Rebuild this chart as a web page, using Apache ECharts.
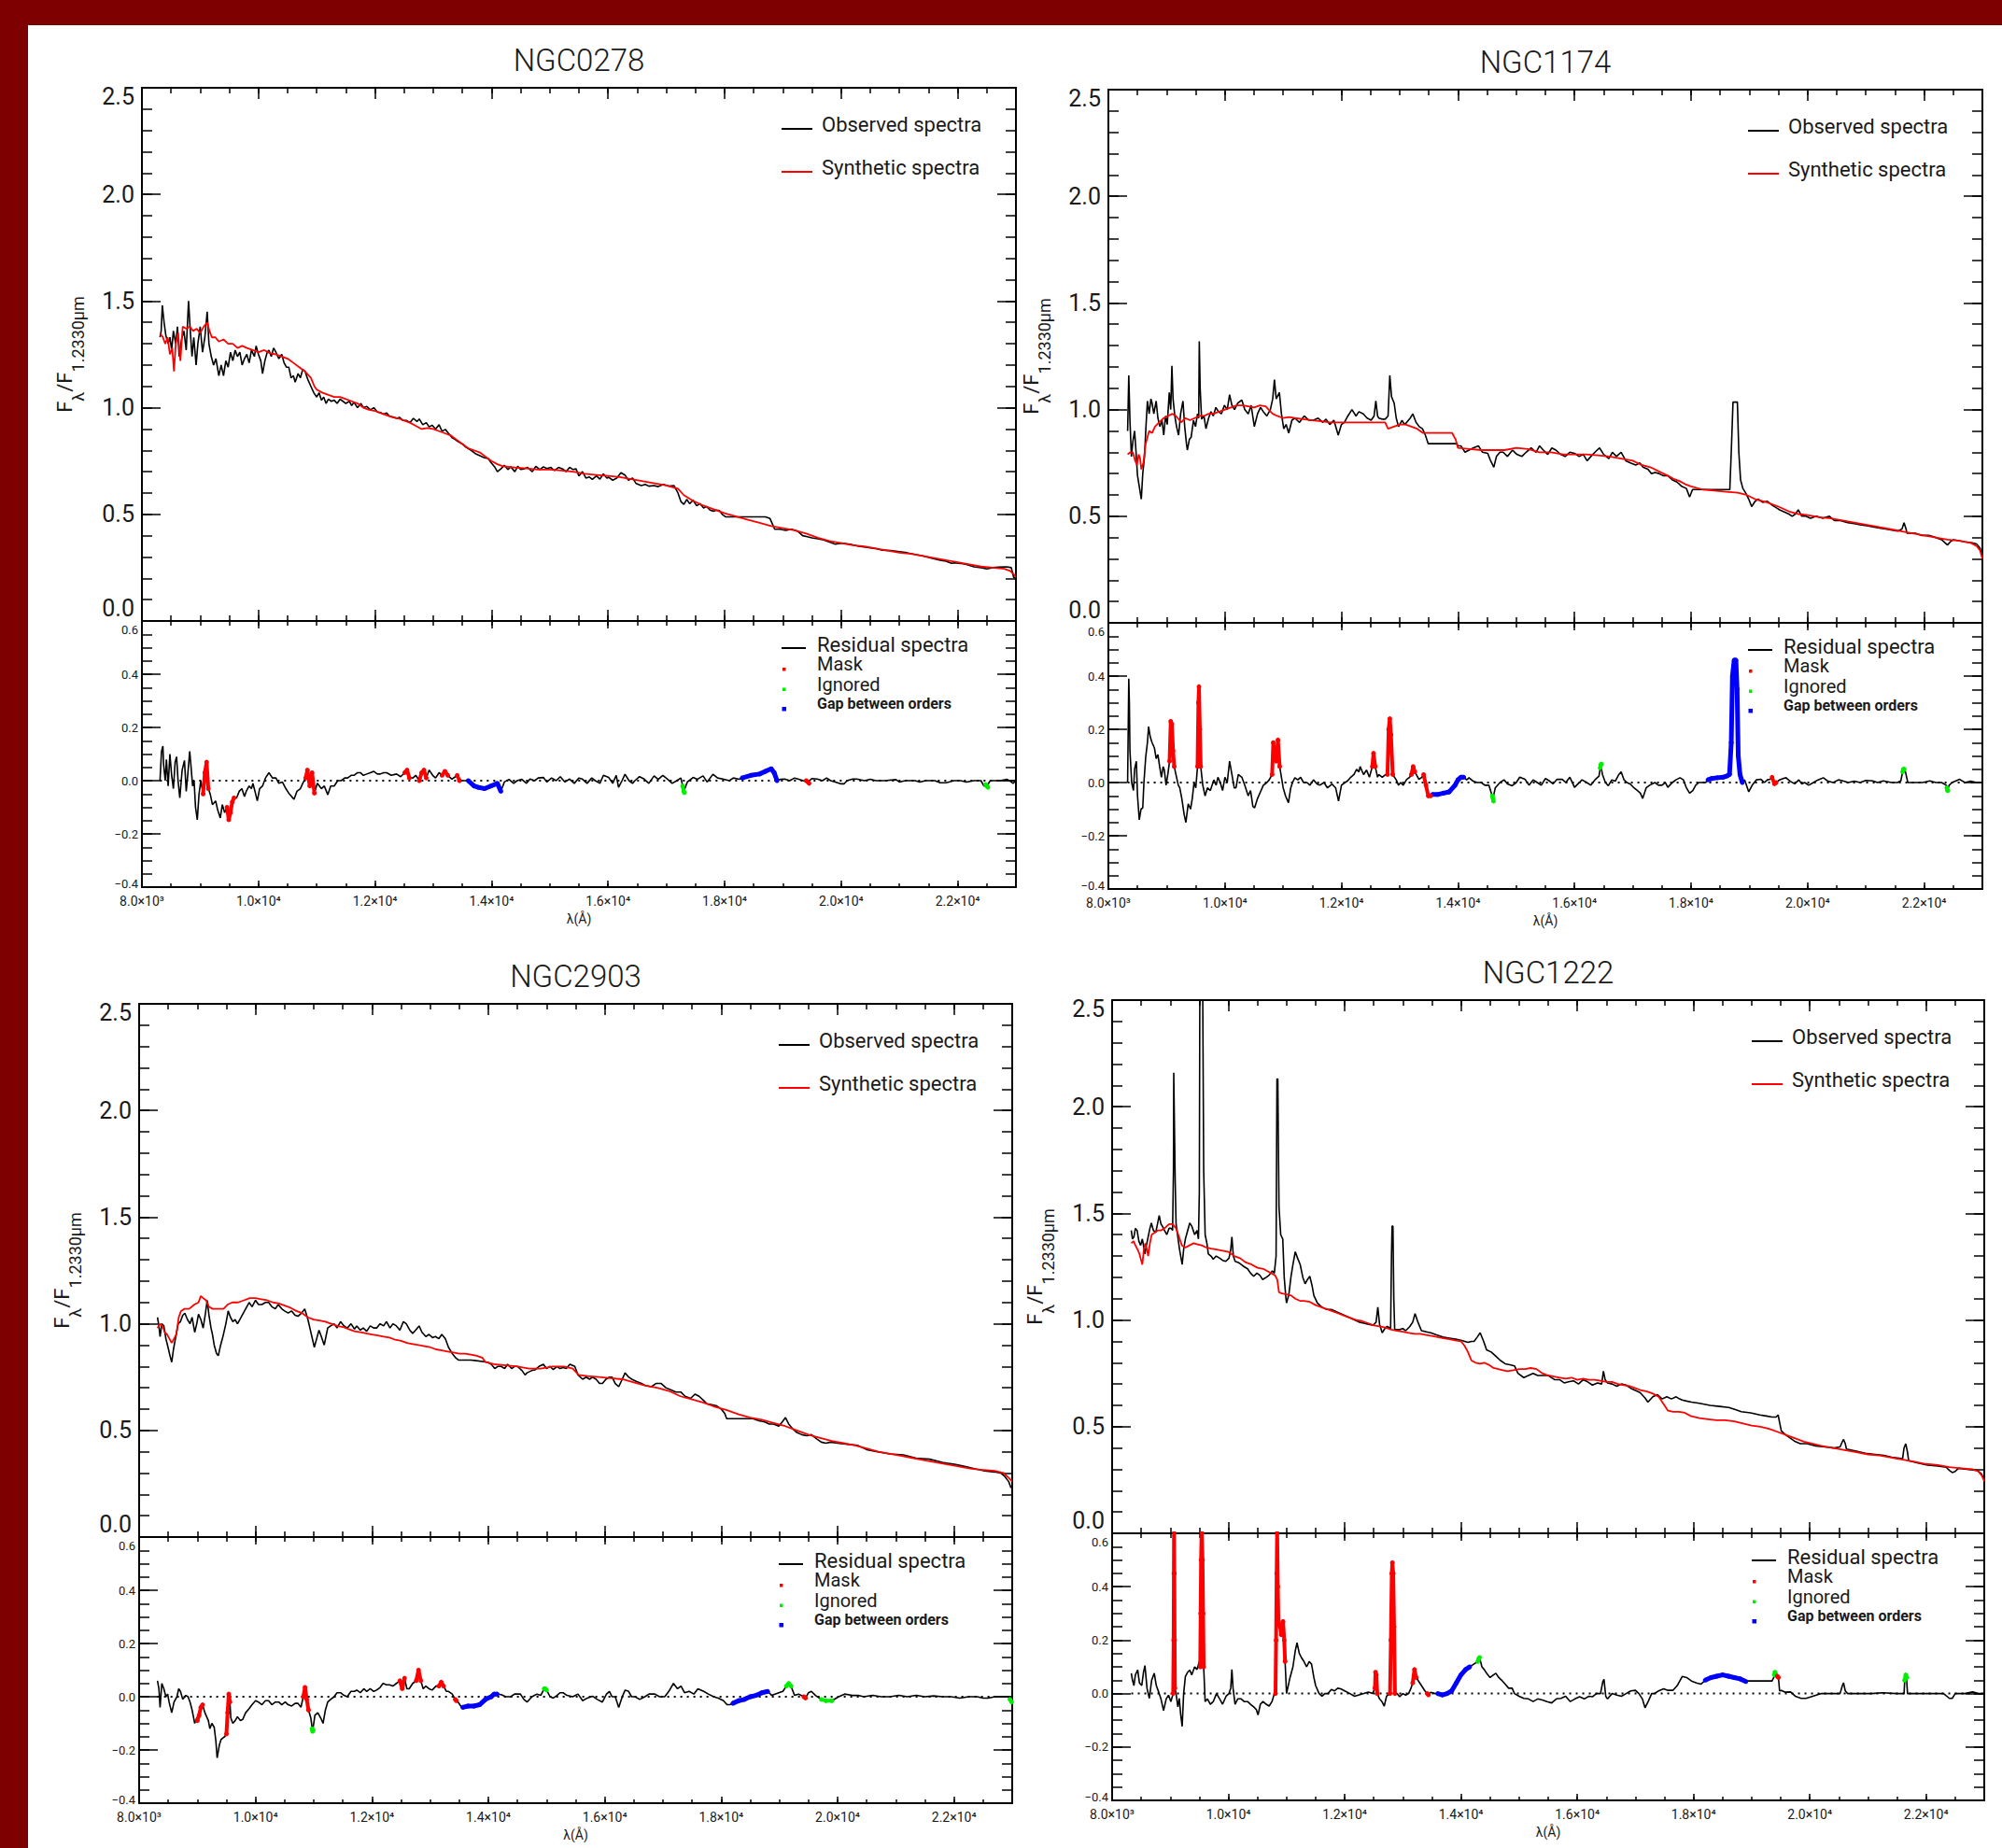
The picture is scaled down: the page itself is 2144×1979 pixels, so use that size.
<!DOCTYPE html>
<html>
<head>
<meta charset="utf-8">
<title>Spectral synthesis fits</title>
<script src="https://cdn.jsdelivr.net/npm/echarts@6/dist/echarts.min.js"></script>
<style>
  html, body { margin: 0; padding: 0; background: #7f0000; }
  #chart { position: absolute; left: 30px; top: 27px; width: 2114px; height: 1952px; background: #fff; }
</style>
</head>
<body>
<div id="chart"></div>
<script>
// wavelength axis ticks (Angstrom)
const xTicks = [8000, 10000, 12000, 14000, 16000, 18000, 20000, 22000]
const xTickLabels = ['8.0×10³', '1.0×10⁴', '1.2×10⁴', '1.4×10⁴', '1.6×10⁴', '1.8×10⁴', '2.0×10⁴', '2.2×10⁴']

// ---------- NGC0278 ----------
const n0278Obs = [[8310,1.33],[8330,1.36],[8350,1.48],[8380,1.40],[8410,1.34],[8450,1.30],[8480,1.33],[8510,1.27],[8540,1.36],[8580,1.30],[8610,1.38],[8640,1.24],[8680,1.32],[8720,1.36],[8760,1.27],[8800,1.50],[8830,1.36],[8860,1.24],[8890,1.33],[8930,1.20],[8960,1.30],[9000,1.38],[9040,1.26],[9080,1.33],[9120,1.45],[9150,1.30],[9190,1.24],[9230,1.20],[9270,1.23],[9320,1.15],[9360,1.20],[9400,1.15],[9440,1.22],[9480,1.19],[9520,1.26],[9560,1.22],[9600,1.27],[9640,1.24],[9680,1.26],[9720,1.20],[9760,1.23],[9800,1.25],[9840,1.21],[9880,1.27],[9930,1.24],[9960,1.29],[10000,1.25],[10040,1.22],[10070,1.16],[10110,1.22],[10150,1.26],[10180,1.27],[10220,1.24],[10260,1.28],[10300,1.26],[10350,1.23],[10400,1.25],[10440,1.21],[10480,1.19],[10520,1.19],[10560,1.14],[10600,1.15],[10630,1.12],[10680,1.16],[10720,1.14],[10760,1.18],[10800,1.17],[10850,1.13],[10900,1.10],[10950,1.07],[11000,1.05],[11040,1.07],[11080,1.035],[11120,1.05],[11160,1.02],[11200,1.04],[11250,1.03],[11300,1.035],[11350,1.02],[11400,1.04],[11450,1.03],[11500,1.02],[11560,1.03],[11600,1.01],[11640,1.025],[11700,1.00],[11760,1.02],[11800,1.00],[11860,1.006],[11920,0.99],[11980,1.00],[12040,0.98],[12090,0.977],[12150,0.97],[12200,0.975],[12250,0.96],[12310,0.957],[12370,0.95],[12420,0.955],[12480,0.94],[12540,0.94],[12600,0.93],[12660,0.95],[12720,0.935],[12760,0.947],[12820,0.92],[12880,0.93],[12930,0.91],[12980,0.918],[13040,0.90],[13100,0.92],[13150,0.89],[13210,0.898],[13260,0.88],[13320,0.86],[13380,0.85],[13430,0.84],[13500,0.83],[13560,0.815],[13650,0.80],[13720,0.785],[13800,0.775],[13880,0.765],[13940,0.762],[14000,0.74],[14060,0.72],[14100,0.70],[14160,0.713],[14220,0.73],[14280,0.71],[14330,0.723],[14400,0.70],[14450,0.725],[14500,0.71],[14550,0.713],[14620,0.72],[14700,0.70],[14760,0.725],[14830,0.71],[14890,0.723],[14950,0.715],[15020,0.72],[15080,0.705],[15150,0.72],[15220,0.713],[15280,0.70],[15340,0.72],[15400,0.71],[15450,0.713],[15500,0.68],[15560,0.70],[15620,0.67],[15680,0.675],[15730,0.664],[15800,0.68],[15860,0.665],[15920,0.69],[15980,0.67],[16010,0.674],[16080,0.66],[16150,0.67],[16220,0.695],[16290,0.684],[16350,0.66],[16420,0.67],[16480,0.645],[16520,0.64],[16570,0.635],[16640,0.64],[16700,0.632],[16790,0.635],[16860,0.63],[16950,0.64],[17040,0.633],[17130,0.635],[17200,0.60],[17250,0.56],[17300,0.547],[17350,0.57],[17400,0.55],[17460,0.566],[17520,0.54],[17580,0.55],[17640,0.53],[17690,0.537],[17750,0.52],[17810,0.515],[17860,0.52],[17910,0.518],[17960,0.50],[18020,0.488],[18200,0.488],[18400,0.488],[18600,0.488],[18700,0.488],[18780,0.48],[18860,0.43],[18950,0.43],[19050,0.425],[19150,0.43],[19260,0.42],[19340,0.40],[19420,0.395],[19500,0.39],[19600,0.385],[19700,0.38],[19800,0.37],[19900,0.36],[20000,0.365],[20150,0.36],[20300,0.35],[20450,0.345],[20580,0.34],[20710,0.332],[20850,0.33],[21000,0.325],[21130,0.32],[21270,0.312],[21400,0.305],[21550,0.295],[21700,0.285],[21800,0.28],[21900,0.27],[21940,0.273],[22050,0.27],[22150,0.265],[22280,0.254],[22400,0.25],[22500,0.244],[22600,0.25],[22700,0.253],[22840,0.254],[22920,0.25],[22960,0.205],[23000,0.20]]
const n0278Syn = [[8310,1.35],[8360,1.33],[8400,1.30],[8440,1.33],[8480,1.25],[8520,1.28],[8550,1.17],[8580,1.30],[8620,1.35],[8660,1.22],[8700,1.38],[8760,1.37],[8820,1.38],[8880,1.36],[8940,1.37],[9000,1.35],[9060,1.38],[9120,1.40],[9160,1.36],[9200,1.33],[9260,1.33],[9320,1.31],[9400,1.32],[9480,1.30],[9560,1.30],[9640,1.28],[9720,1.29],[9800,1.28],[9900,1.27],[10000,1.26],[10100,1.27],[10200,1.255],[10300,1.25],[10400,1.24],[10500,1.23],[10600,1.21],[10700,1.19],[10800,1.17],[10900,1.14],[10960,1.10],[11000,1.085],[11100,1.07],[11200,1.06],[11300,1.05],[11400,1.05],[11500,1.04],[11600,1.03],[11700,1.02],[11800,1.00],[11900,0.99],[12000,0.985],[12100,0.975],[12200,0.965],[12300,0.955],[12400,0.95],[12500,0.94],[12600,0.93],[12700,0.915],[12800,0.90],[12900,0.905],[13000,0.90],[13100,0.89],[13200,0.88],[13300,0.87],[13400,0.85],[13500,0.83],[13600,0.81],[13700,0.80],[13800,0.79],[13900,0.77],[14000,0.75],[14100,0.735],[14200,0.725],[14400,0.72],[14600,0.715],[14800,0.71],[15000,0.71],[15200,0.705],[15400,0.70],[15600,0.69],[15800,0.685],[16000,0.68],[16200,0.675],[16400,0.665],[16600,0.655],[16800,0.645],[17000,0.635],[17200,0.62],[17300,0.59],[17450,0.565],[17600,0.545],[17800,0.525],[18000,0.505],[18200,0.49],[18400,0.475],[18600,0.46],[18800,0.445],[19000,0.435],[19200,0.425],[19400,0.41],[19600,0.39],[19800,0.375],[20000,0.365],[20200,0.355],[20400,0.35],[20600,0.34],[20800,0.33],[21000,0.32],[21200,0.315],[21400,0.305],[21600,0.295],[21800,0.285],[22000,0.275],[22200,0.265],[22400,0.255],[22600,0.25],[22800,0.245],[22900,0.235],[22960,0.22],[23000,0.205]]
const n0278Res = [[8310,0.0],[8336,0.11],[8360,0.13],[8370,0.065],[8400,0.0],[8420,0.08],[8450,-0.02],[8480,0.10],[8510,0.02],[8540,-0.03],[8570,0.07],[8595,0.09],[8620,0.0],[8650,-0.065],[8690,0.04],[8730,0.076],[8760,-0.04],[8785,0.018],[8820,0.11],[8840,0.06],[8870,-0.02],[8895,0.0],[8920,-0.10],[8950,-0.147],[8980,-0.05],[9010,0.0],[9050,-0.05],[9080,0.03],[9110,0.07],[9140,-0.03],[9175,-0.053],[9210,-0.09],[9265,-0.076],[9300,-0.11],[9345,-0.14],[9380,-0.09],[9420,-0.12],[9460,-0.10],[9490,-0.147],[9520,-0.12],[9550,-0.08],[9580,-0.065],[9625,-0.065],[9670,-0.04],[9715,-0.03],[9760,-0.06],[9790,-0.04],[9840,-0.02],[9880,-0.03],[9905,-0.01],[9940,-0.04],[9980,-0.076],[10020,-0.03],[10070,-0.02],[10120,0.01],[10180,0.03],[10240,0.01],[10300,0.01],[10350,-0.01],[10410,-0.005],[10470,-0.03],[10520,-0.047],[10570,-0.06],[10610,-0.07],[10660,-0.04],[10720,-0.03],[10760,-0.01],[10810,0.01],[10840,0.04],[10880,-0.02],[10920,0.03],[10960,-0.047],[11010,-0.01],[11080,-0.03],[11130,-0.02],[11190,-0.053],[11240,-0.02],[11300,-0.02],[11360,0.0],[11420,0.0],[11480,0.01],[11530,0.01],[11590,0.02],[11640,0.02],[11700,0.03],[11750,0.03],[11800,0.02],[11860,0.025],[11920,0.03],[11980,0.035],[12040,0.025],[12090,0.025],[12150,0.03],[12200,0.03],[12280,0.02],[12370,0.025],[12440,0.015],[12510,0.03],[12550,0.04],[12590,0.01],[12650,0.01],[12700,0.02],[12760,0.0],[12800,0.03],[12840,0.04],[12880,0.01],[12930,0.04],[12990,0.02],[13040,0.01],[13100,0.03],[13150,0.02],[13200,0.035],[13250,0.02],[13320,0.006],[13380,0.015],[13410,0.02],[13450,0.0],[13540,0.0],[13600,0.0],[13700,-0.02],[13770,-0.025],[13880,-0.03],[13990,-0.02],[14100,-0.01],[14160,-0.04],[14220,-0.005],[14300,0.005],[14380,-0.01],[14440,0.0],[14520,0.005],[14600,-0.01],[14660,0.006],[14740,0.0],[14800,0.01],[14890,0.012],[14950,-0.005],[15030,0.01],[15110,0.0],[15180,0.015],[15260,-0.005],[15340,0.006],[15420,-0.01],[15500,0.01],[15560,0.006],[15640,-0.01],[15720,0.01],[15780,0.0],[15860,-0.01],[15920,0.02],[16010,0.012],[16080,-0.01],[16140,0.02],[16180,-0.025],[16240,0.0],[16290,0.024],[16360,0.0],[16420,-0.01],[16460,0.0],[16540,0.015],[16620,0.006],[16700,-0.01],[16790,0.018],[16860,0.005],[16940,0.02],[17020,0.006],[17100,-0.01],[17180,0.0],[17250,0.01],[17300,-0.04],[17360,-0.005],[17460,0.012],[17530,0.005],[17630,0.018],[17700,-0.005],[17800,0.024],[17880,0.01],[17970,0.006],[18080,0.0],[18150,0.01],[18250,0.005],[18300,0.01],[18450,0.02],[18600,0.025],[18700,0.035],[18800,0.045],[18850,0.03],[18900,0.0],[18960,0.005],[19030,0.006],[19120,0.0],[19200,0.01],[19260,0.006],[19350,0.0],[19430,-0.005],[19500,0.008],[19590,0.006],[19680,0.0],[19750,0.01],[19820,0.0],[19900,-0.005],[20000,-0.012],[20050,-0.012],[20100,0.0],[20200,0.006],[20270,0.006],[20400,0.0],[20500,0.005],[20600,0.0],[20750,0.0],[20940,0.004],[21000,-0.005],[21100,0.0],[21270,0.0],[21350,-0.005],[21450,0.0],[21610,0.0],[21700,-0.008],[21800,-0.008],[21940,0.0],[22050,0.0],[22150,-0.005],[22280,0.0],[22400,0.0],[22450,-0.02],[22500,-0.02],[22560,0.0],[22730,0.0],[22850,0.005],[22920,-0.005],[22950,-0.01],[23000,0.0]]
const n0278Mask = [
  [[9050,-0.05],[9080,0.03],[9110,0.07],[9140,-0.03]],
  [[9460,-0.10],[9490,-0.147],[9520,-0.12],[9550,-0.08],[9580,-0.065]],
  [[10810,0.01],[10840,0.04],[10880,-0.02],[10920,0.03],[10960,-0.047]],
  [[12510,0.03],[12550,0.04],[12590,0.01]],
  [[12760,0.0],[12800,0.03],[12840,0.04],[12880,0.01]],
  [[13150,0.02],[13200,0.035],[13250,0.02]],
  [[13410,0.02],[13450,0.0]],
  [[19400,0.0],[19430,-0.005],[19450,-0.01]]
]
const n0278Ign = [
  [[17280,-0.02],[17300,-0.04],[17310,-0.045]],
  [[22480,-0.015],[22500,-0.02],[22520,-0.025]]
]
const n0278Gap = [
  [[13600,0.0],[13700,-0.02],[13770,-0.025],[13880,-0.03],[13990,-0.02],[14100,-0.01],[14160,-0.04]],
  [[18300,0.01],[18450,0.02],[18600,0.025],[18700,0.035],[18800,0.045],[18850,0.03],[18900,0.0]]
]

// ---------- NGC1174 ----------
const n1174Obs = [[8330,0.90],[8350,1.16],[8370,0.95],[8395,0.78],[8420,0.85],[8450,0.90],[8475,0.80],[8500,0.69],[8530,0.64],[8565,0.58],[8590,0.70],[8620,0.78],[8645,0.92],[8670,1.04],[8700,0.98],[8730,1.05],[8750,1.03],[8780,0.98],[8820,1.04],[8850,0.96],[8885,0.92],[8920,0.95],[8950,0.88],[8980,0.97],[9010,0.93],[9045,1.08],[9070,1.00],[9090,1.205],[9110,1.05],[9140,0.97],[9170,0.92],[9205,0.88],[9240,0.98],[9280,1.04],[9310,0.92],[9340,0.84],[9355,0.81],[9390,0.86],[9420,0.87],[9460,0.95],[9495,0.92],[9530,0.98],[9550,0.96],[9560,1.32],[9575,1.10],[9600,0.955],[9640,0.97],[9675,0.91],[9720,0.96],[9760,0.99],[9800,0.97],[9845,1.01],[9890,0.99],[9940,0.98],[9990,1.02],[10040,1.00],[10080,1.07],[10120,1.02],[10165,1.00],[10220,1.03],[10290,1.045],[10340,1.00],[10400,0.98],[10450,1.02],[10505,0.92],[10560,0.98],[10610,1.01],[10660,0.99],[10720,0.97],[10780,1.00],[10820,1.05],[10850,1.14],[10880,1.05],[10935,1.08],[10970,0.98],[11010,0.91],[11050,0.93],[11095,0.89],[11150,0.95],[11200,0.96],[11280,0.94],[11360,0.97],[11440,0.95],[11520,0.95],[11600,0.96],[11680,0.94],[11735,0.955],[11800,0.93],[11870,0.95],[11945,0.88],[12000,0.93],[12050,0.94],[12110,0.97],[12180,1.00],[12250,0.97],[12300,0.99],[12375,0.98],[12440,0.96],[12510,0.95],[12560,0.97],[12590,1.04],[12620,0.97],[12640,0.96],[12700,0.955],[12750,0.955],[12800,0.97],[12830,1.16],[12860,1.06],[12905,1.03],[12940,0.96],[12980,0.92],[13040,0.95],[13080,0.93],[13120,0.94],[13180,0.96],[13225,0.98],[13280,0.94],[13335,0.92],[13390,0.91],[13440,0.88],[13490,0.84],[13700,0.84],[13975,0.84],[14000,0.83],[14050,0.83],[14120,0.80],[14190,0.81],[14260,0.82],[14350,0.83],[14420,0.80],[14510,0.795],[14560,0.76],[14615,0.73],[14660,0.78],[14720,0.80],[14775,0.80],[14850,0.78],[14935,0.81],[15010,0.79],[15095,0.78],[15170,0.80],[15255,0.82],[15340,0.80],[15400,0.83],[15465,0.81],[15540,0.79],[15610,0.82],[15680,0.81],[15760,0.79],[15840,0.78],[15920,0.80],[16000,0.795],[16080,0.78],[16150,0.79],[16215,0.76],[16280,0.78],[16350,0.80],[16430,0.82],[16500,0.79],[16590,0.77],[16650,0.80],[16720,0.78],[16800,0.80],[16880,0.76],[16960,0.75],[17050,0.74],[17120,0.75],[17175,0.73],[17260,0.72],[17320,0.70],[17385,0.705],[17450,0.70],[17520,0.69],[17600,0.69],[17680,0.67],[17760,0.66],[17840,0.64],[17920,0.63],[17975,0.59],[18025,0.625],[18300,0.625],[18600,0.625],[18665,0.625],[18690,0.80],[18720,1.035],[18795,1.035],[18820,0.80],[18850,0.67],[18890,0.63],[18935,0.61],[18990,0.58],[19040,0.545],[19100,0.57],[19150,0.58],[19230,0.565],[19310,0.57],[19400,0.55],[19460,0.54],[19520,0.53],[19600,0.52],[19680,0.51],[19735,0.50],[19790,0.51],[19840,0.53],[19900,0.50],[19970,0.50],[20050,0.49],[20150,0.50],[20260,0.49],[20375,0.50],[20460,0.48],[20560,0.48],[20690,0.47],[20800,0.465],[20900,0.46],[21015,0.455],[21120,0.45],[21230,0.445],[21335,0.44],[21450,0.435],[21545,0.43],[21620,0.44],[21655,0.47],[21690,0.44],[21705,0.42],[21850,0.42],[21950,0.41],[22080,0.41],[22200,0.40],[22300,0.39],[22400,0.365],[22450,0.38],[22505,0.39],[22600,0.385],[22700,0.38],[22825,0.375],[22900,0.37],[22960,0.35],[23000,0.31]]
const n1174Syn = [[8330,0.79],[8380,0.80],[8420,0.80],[8460,0.76],[8490,0.74],[8520,0.79],[8545,0.77],[8565,0.72],[8600,0.75],[8640,0.84],[8680,0.88],[8700,0.90],[8750,0.89],[8800,0.92],[8870,0.94],[8950,0.96],[9020,0.97],[9100,0.98],[9160,0.97],[9250,0.94],[9320,0.96],[9400,0.95],[9480,0.96],[9560,0.97],[9640,0.97],[9720,0.98],[9800,0.98],[9900,0.99],[10000,1.00],[10100,1.01],[10200,1.02],[10300,1.02],[10400,1.015],[10500,1.01],[10600,1.02],[10700,1.015],[10750,1.00],[10820,0.98],[10900,0.97],[11000,0.96],[11100,0.965],[11200,0.96],[11350,0.955],[11500,0.95],[11650,0.945],[11800,0.94],[12000,0.94],[12200,0.94],[12400,0.94],[12600,0.94],[12750,0.94],[12800,0.91],[12900,0.92],[13000,0.93],[13100,0.93],[13200,0.92],[13300,0.91],[13400,0.89],[13500,0.89],[13700,0.89],[13900,0.89],[13960,0.86],[14000,0.82],[14200,0.815],[14400,0.81],[14600,0.81],[14800,0.81],[15000,0.82],[15200,0.815],[15400,0.80],[15600,0.80],[15800,0.79],[16000,0.79],[16200,0.79],[16400,0.785],[16600,0.78],[16800,0.77],[17000,0.76],[17150,0.74],[17300,0.73],[17450,0.71],[17600,0.69],[17700,0.675],[17800,0.665],[17900,0.65],[18000,0.64],[18200,0.625],[18400,0.62],[18600,0.615],[18800,0.61],[18950,0.60],[19100,0.58],[19300,0.565],[19500,0.545],[19700,0.52],[19850,0.51],[20000,0.505],[20200,0.495],[20400,0.49],[20600,0.48],[20800,0.47],[21000,0.46],[21200,0.45],[21400,0.44],[21600,0.43],[21800,0.42],[22000,0.41],[22200,0.40],[22400,0.39],[22600,0.385],[22800,0.375],[22900,0.36],[22960,0.34],[23000,0.30]]
const n1174Res = [[8330,0.0],[8350,0.39],[8360,0.30],[8370,0.12],[8400,0.0],[8430,-0.03],[8450,0.05],[8480,0.08],[8500,-0.05],[8530,-0.14],[8560,-0.10],[8590,-0.095],[8610,0.0],[8640,0.094],[8670,0.15],[8690,0.21],[8720,0.17],[8750,0.15],[8790,0.13],[8820,0.09],[8850,0.105],[8880,0.06],[8910,0.02],[8940,0.06],[8960,0.047],[8990,-0.01],[9020,0.03],[9050,0.08],[9070,0.23],[9090,0.22],[9110,0.12],[9130,0.06],[9170,0.02],[9200,-0.01],[9225,-0.02],[9260,-0.06],[9300,-0.12],[9330,-0.15],[9370,-0.08],[9410,-0.10],[9440,-0.06],[9470,0.0],[9500,-0.02],[9530,0.06],[9545,0.30],[9555,0.36],[9570,0.20],[9585,0.06],[9620,-0.01],[9660,-0.05],[9700,-0.02],[9750,-0.03],[9810,0.01],[9850,-0.01],[9880,0.02],[9920,0.0],[9960,-0.03],[10000,0.02],[10040,0.0],[10080,0.08],[10120,0.03],[10160,-0.02],[10190,-0.02],[10230,0.03],[10290,0.02],[10340,-0.01],[10400,-0.05],[10440,-0.03],[10480,-0.09],[10510,-0.095],[10560,-0.06],[10610,-0.035],[10660,-0.01],[10720,0.0],[10760,0.01],[10810,0.03],[10830,0.15],[10860,0.10],[10880,0.08],[10910,0.16],[10940,0.06],[10970,0.02],[11000,-0.02],[11040,-0.05],[11090,-0.076],[11130,-0.02],[11160,0.0],[11200,0.018],[11250,0.01],[11300,0.02],[11350,0.0],[11410,0.0],[11460,-0.01],[11520,0.01],[11580,-0.005],[11630,-0.01],[11700,0.0],[11760,-0.02],[11840,-0.006],[11900,-0.02],[11950,-0.07],[12000,-0.01],[12060,0.0],[12105,0.006],[12160,0.02],[12215,0.03],[12260,0.05],[12300,0.04],[12320,0.06],[12380,0.03],[12430,0.047],[12480,0.02],[12530,0.06],[12550,0.11],[12580,0.06],[12620,0.02],[12640,0.03],[12700,0.02],[12760,0.03],[12790,0.03],[12810,0.20],[12830,0.24],[12850,0.18],[12880,0.03],[12940,0.01],[12980,-0.01],[13015,0.0],[13060,-0.01],[13120,0.012],[13170,0.02],[13200,0.03],[13230,0.06],[13260,0.04],[13330,0.012],[13380,0.02],[13410,0.03],[13450,-0.01],[13490,-0.05],[13530,-0.05],[13560,-0.045],[13650,-0.045],[13750,-0.04],[13850,-0.035],[13950,-0.01],[14000,0.01],[14050,0.02],[14100,0.02],[14150,0.01],[14190,0.018],[14260,0.005],[14330,0.0],[14400,0.0],[14460,-0.01],[14530,-0.01],[14600,-0.06],[14640,-0.02],[14720,0.0],[14790,0.01],[14850,-0.005],[14930,-0.012],[15000,0.0],[15060,0.02],[15150,0.012],[15220,-0.01],[15290,0.01],[15360,0.0],[15430,-0.01],[15500,0.015],[15570,0.006],[15630,-0.005],[15700,0.012],[15790,0.012],[15850,0.0],[15920,0.02],[16000,-0.018],[16060,-0.005],[16130,0.01],[16210,0.0],[16280,-0.01],[16350,0.01],[16420,0.024],[16450,0.065],[16480,0.03],[16530,0.0],[16580,-0.012],[16640,0.01],[16700,0.005],[16760,0.03],[16800,0.04],[16850,0.01],[16900,0.0],[16960,-0.006],[17020,-0.02],[17080,-0.03],[17130,-0.04],[17170,-0.06],[17230,-0.02],[17290,-0.01],[17380,0.0],[17440,-0.01],[17500,-0.01],[17560,0.0],[17600,-0.018],[17680,0.0],[17740,0.01],[17810,0.018],[17870,0.01],[17920,-0.02],[17975,-0.04],[18030,-0.03],[18080,-0.01],[18135,0.0],[18200,0.0],[18250,0.0],[18290,0.01],[18350,0.015],[18450,0.018],[18550,0.02],[18620,0.025],[18660,0.03],[18690,0.15],[18710,0.40],[18740,0.46],[18770,0.46],[18790,0.35],[18810,0.10],[18840,0.03],[18880,0.0],[18920,0.01],[18990,-0.035],[19050,-0.01],[19120,0.01],[19200,0.012],[19260,0.0],[19310,0.01],[19360,0.012],[19390,0.02],[19430,-0.005],[19460,0.0],[19520,0.01],[19580,0.015],[19630,0.018],[19700,0.005],[19780,-0.005],[19850,0.01],[19900,-0.005],[19950,0.0],[20020,-0.01],[20100,0.0],[20180,0.01],[20270,0.018],[20350,0.005],[20440,0.0],[20530,0.01],[20620,0.005],[20700,0.0],[20800,0.005],[20900,0.0],[21000,0.008],[21120,0.006],[21200,0.0],[21300,0.006],[21440,0.0],[21540,0.0],[21600,0.006],[21640,0.05],[21680,0.04],[21720,0.0],[21800,0.0],[21970,0.0],[22100,0.006],[22200,0.0],[22300,0.0],[22380,-0.01],[22400,-0.03],[22430,-0.01],[22480,0.0],[22610,0.012],[22700,0.0],[22800,0.005],[22900,0.0],[23000,0.0]]
const n1174Mask = [
  [[9050,0.08],[9070,0.23],[9090,0.22],[9110,0.12],[9130,0.06]],
  [[9530,0.06],[9545,0.30],[9555,0.36],[9570,0.20],[9585,0.06]],
  [[10810,0.03],[10830,0.15],[10860,0.10],[10880,0.08],[10910,0.16],[10940,0.06]],
  [[12530,0.06],[12550,0.11],[12580,0.06]],
  [[12790,0.03],[12810,0.20],[12830,0.24],[12850,0.18],[12880,0.03]],
  [[13200,0.03],[13230,0.06],[13260,0.04]],
  [[13410,0.03],[13450,-0.01],[13490,-0.05],[13530,-0.05]],
  [[19390,0.02],[19430,-0.005],[19460,0.0]]
]
const n1174Ign = [
  [[14590,-0.05],[14600,-0.06],[14610,-0.07]],
  [[16440,0.055],[16450,0.065],[16460,0.07]],
  [[21630,0.04],[21645,0.05],[21660,0.05]],
  [[22390,-0.02],[22400,-0.03],[22410,-0.03]]
]
const n1174Gap = [
  [[13560,-0.045],[13650,-0.045],[13750,-0.04],[13850,-0.035],[13950,-0.01],[14000,0.01],[14050,0.02],[14100,0.02]],
  [[18290,0.01],[18350,0.015],[18450,0.018],[18550,0.02],[18620,0.025],[18660,0.03],[18690,0.15],[18710,0.40],[18740,0.46],[18770,0.46],[18790,0.35],[18810,0.10],[18840,0.03],[18880,0.0]]
]

// ---------- NGC2903 ----------
const n2903Obs = [[8315,1.03],[8340,0.99],[8360,0.94],[8390,1.00],[8425,0.99],[8460,0.93],[8505,0.88],[8530,0.85],[8560,0.82],[8590,0.88],[8630,0.94],[8670,1.00],[8710,1.01],[8750,1.04],[8785,1.05],[8830,1.02],[8875,1.00],[8910,1.03],[8955,0.96],[8990,1.00],[9020,1.045],[9060,1.02],[9100,0.98],[9140,1.05],[9170,1.11],[9200,1.04],[9235,0.98],[9260,0.95],[9290,0.90],[9330,0.86],[9360,0.85],[9400,0.90],[9440,0.94],[9490,1.00],[9530,1.06],[9570,1.03],[9610,1.01],[9650,1.02],[9690,1.00],[9730,1.02],[9780,1.045],[9830,1.07],[9890,1.10],[9940,1.08],[10000,1.11],[10050,1.09],[10110,1.09],[10170,1.10],[10225,1.10],[10280,1.08],[10340,1.07],[10390,1.09],[10450,1.07],[10500,1.06],[10560,1.05],[10620,1.06],[10680,1.04],[10730,1.035],[10790,1.05],[10845,1.07],[10900,1.02],[10955,0.955],[11010,0.89],[11050,0.93],[11090,0.97],[11130,0.94],[11180,0.90],[11240,0.98],[11290,0.99],[11350,1.00],[11400,0.98],[11460,1.01],[11520,0.99],[11575,0.98],[11640,1.00],[11700,0.975],[11740,0.99],[11800,0.97],[11850,0.98],[11910,0.965],[11970,0.99],[12030,0.98],[12080,0.98],[12140,1.00],[12200,0.99],[12250,1.01],[12310,0.98],[12360,1.00],[12420,0.99],[12480,0.97],[12540,1.01],[12590,1.00],[12650,0.97],[12700,0.955],[12750,0.97],[12810,0.99],[12860,0.96],[12925,0.94],[12980,0.95],[13040,0.935],[13090,0.94],[13150,0.93],[13200,0.95],[13260,0.93],[13315,0.89],[13380,0.86],[13440,0.84],[13485,0.83],[13700,0.83],[13990,0.82],[14050,0.81],[14110,0.79],[14160,0.80],[14220,0.80],[14280,0.79],[14330,0.81],[14400,0.79],[14450,0.80],[14500,0.80],[14580,0.78],[14630,0.76],[14665,0.77],[14740,0.78],[14810,0.785],[14870,0.80],[14945,0.81],[15000,0.79],[15060,0.80],[15115,0.785],[15180,0.80],[15230,0.79],[15285,0.795],[15340,0.79],[15400,0.81],[15485,0.80],[15540,0.76],[15620,0.74],[15680,0.75],[15740,0.74],[15790,0.75],[15850,0.74],[15910,0.72],[15960,0.72],[16020,0.74],[16080,0.75],[16125,0.75],[16180,0.72],[16240,0.705],[16300,0.74],[16350,0.77],[16410,0.75],[16465,0.74],[16540,0.73],[16630,0.72],[16700,0.71],[16800,0.705],[16880,0.72],[16970,0.72],[17050,0.70],[17140,0.69],[17220,0.68],[17305,0.68],[17380,0.66],[17475,0.65],[17550,0.67],[17620,0.66],[17700,0.64],[17755,0.625],[17840,0.62],[17925,0.615],[18000,0.60],[18060,0.58],[18095,0.555],[18300,0.555],[18545,0.555],[18650,0.545],[18750,0.54],[18825,0.53],[18900,0.53],[18990,0.52],[19050,0.54],[19105,0.56],[19160,0.53],[19220,0.51],[19300,0.49],[19385,0.48],[19470,0.475],[19550,0.48],[19640,0.46],[19720,0.445],[19800,0.44],[19880,0.445],[20000,0.44],[20170,0.435],[20340,0.43],[20500,0.41],[20685,0.40],[20900,0.39],[21130,0.385],[21350,0.37],[21580,0.365],[21800,0.35],[22030,0.34],[22200,0.33],[22365,0.32],[22530,0.31],[22700,0.305],[22800,0.30],[22870,0.285],[22940,0.26],[22980,0.23]]
const n2903Syn = [[8315,0.98],[8360,1.00],[8400,0.99],[8440,0.96],[8480,0.95],[8520,0.93],[8560,0.91],[8600,0.93],[8640,0.95],[8680,1.03],[8720,1.06],[8780,1.07],[8860,1.07],[8950,1.09],[9020,1.10],[9060,1.13],[9100,1.12],[9150,1.11],[9200,1.08],[9260,1.07],[9350,1.07],[9450,1.07],[9520,1.09],[9600,1.10],[9700,1.10],[9800,1.11],[9900,1.12],[10000,1.12],[10100,1.115],[10200,1.11],[10300,1.10],[10400,1.095],[10500,1.085],[10600,1.075],[10700,1.06],[10800,1.05],[10900,1.03],[11000,1.02],[11100,1.015],[11200,1.01],[11300,1.00],[11400,0.99],[11500,0.985],[11600,0.975],[11700,0.965],[11800,0.96],[11900,0.955],[12000,0.95],[12100,0.945],[12200,0.94],[12300,0.935],[12400,0.925],[12500,0.92],[12600,0.91],[12700,0.905],[12800,0.90],[12900,0.895],[13000,0.89],[13100,0.88],[13200,0.875],[13300,0.87],[13400,0.865],[13500,0.86],[13600,0.86],[13700,0.855],[13800,0.85],[13900,0.84],[13950,0.82],[14100,0.81],[14300,0.805],[14500,0.80],[14700,0.79],[14900,0.79],[15100,0.80],[15300,0.80],[15450,0.79],[15550,0.76],[15700,0.755],[15900,0.75],[16100,0.745],[16300,0.74],[16500,0.725],[16700,0.71],[16900,0.70],[17100,0.685],[17300,0.66],[17500,0.645],[17700,0.63],[17900,0.61],[18100,0.595],[18300,0.575],[18500,0.56],[18700,0.55],[18900,0.535],[19100,0.52],[19300,0.50],[19500,0.48],[19700,0.465],[19900,0.45],[20100,0.44],[20300,0.43],[20500,0.415],[20700,0.40],[20900,0.39],[21100,0.38],[21300,0.37],[21500,0.36],[21700,0.35],[21900,0.34],[22100,0.33],[22300,0.32],[22500,0.315],[22700,0.31],[22850,0.30],[22950,0.275],[23000,0.26]]
const n2903Res = [[8315,0.06],[8340,0.03],[8360,-0.04],[8390,0.05],[8425,0.03],[8460,0.0],[8490,0.01],[8515,-0.02],[8560,-0.06],[8600,-0.02],[8650,0.0],[8680,0.03],[8710,0.02],[8750,-0.01],[8800,0.005],[8840,0.0],[8875,-0.02],[8910,-0.05],[8955,-0.10],[8990,-0.08],[9030,-0.07],[9060,-0.04],[9090,-0.03],[9130,-0.06],[9160,-0.075],[9190,-0.09],[9215,-0.12],[9250,-0.10],[9290,-0.115],[9320,-0.17],[9340,-0.23],[9380,-0.18],[9410,-0.16],[9440,-0.155],[9470,-0.15],[9500,-0.14],[9520,-0.06],[9540,0.01],[9560,-0.02],[9575,-0.08],[9610,-0.10],[9650,-0.09],[9690,-0.075],[9740,-0.09],[9780,-0.085],[9830,-0.06],[9890,-0.045],[9940,-0.03],[10000,-0.015],[10050,-0.02],[10110,-0.03],[10170,-0.015],[10225,-0.015],[10280,-0.03],[10340,-0.02],[10400,-0.02],[10450,-0.03],[10510,-0.02],[10560,-0.03],[10620,-0.035],[10680,-0.025],[10730,-0.025],[10780,-0.04],[10820,0.0],[10850,0.035],[10880,-0.01],[10910,-0.05],[10950,-0.08],[10980,-0.13],[11020,-0.07],[11070,-0.06],[11120,-0.08],[11160,-0.10],[11200,-0.05],[11240,-0.02],[11290,-0.01],[11350,0.0],[11400,0.015],[11460,0.015],[11520,0.005],[11575,0.0],[11640,0.02],[11700,0.02],[11740,0.025],[11800,0.015],[11860,0.03],[11910,0.02],[11970,0.03],[12030,0.02],[12080,0.025],[12140,0.035],[12190,0.05],[12250,0.045],[12300,0.045],[12360,0.04],[12420,0.05],[12480,0.06],[12520,0.03],[12560,0.07],[12600,0.03],[12640,0.03],[12700,0.05],[12760,0.06],[12800,0.10],[12840,0.06],[12880,0.03],[12925,0.04],[12980,0.03],[13035,0.025],[13100,0.04],[13150,0.04],[13190,0.055],[13230,0.04],[13280,0.02],[13315,0.02],[13380,0.01],[13430,-0.01],[13450,-0.015],[13480,-0.02],[13540,-0.04],[13560,-0.04],[13650,-0.035],[13750,-0.035],[13850,-0.03],[13950,-0.01],[14050,0.0],[14100,0.01],[14150,0.01],[14220,0.008],[14300,0.0],[14385,0.0],[14450,0.01],[14550,0.01],[14610,-0.01],[14665,-0.02],[14750,0.0],[14835,0.01],[14900,0.005],[14960,0.03],[15000,0.025],[15060,0.0],[15115,-0.005],[15180,0.005],[15230,0.015],[15285,0.015],[15350,0.005],[15450,0.0],[15540,0.01],[15620,-0.015],[15700,-0.005],[15790,0.002],[15870,-0.01],[15960,-0.02],[16030,0.01],[16080,0.02],[16125,0.0],[16180,0.0],[16240,-0.04],[16300,0.0],[16350,0.025],[16410,0.02],[16460,0.0],[16520,0.0],[16600,-0.01],[16690,0.0],[16760,0.01],[16860,0.01],[16940,0.0],[17030,0.0],[17100,0.02],[17180,0.05],[17250,0.03],[17310,0.04],[17370,0.015],[17450,0.02],[17530,0.01],[17600,0.03],[17700,0.02],[17780,0.01],[17870,0.0],[17950,-0.005],[18040,-0.015],[18100,-0.03],[18150,-0.03],[18200,-0.025],[18300,-0.015],[18400,-0.01],[18500,0.0],[18600,0.005],[18700,0.015],[18800,0.02],[18870,0.005],[18990,0.015],[19060,0.02],[19120,0.04],[19160,0.05],[19200,0.04],[19260,0.005],[19330,0.01],[19420,0.0],[19450,-0.005],[19500,0.015],[19550,0.02],[19620,0.005],[19720,-0.01],[19800,-0.015],[19900,-0.015],[20020,0.0],[20120,0.01],[20250,0.005],[20350,0.005],[20450,0.0],[20600,0.005],[20750,0.0],[20900,0.0],[21050,0.005],[21200,0.0],[21350,0.005],[21500,0.0],[21650,0.003],[21800,0.0],[21950,0.0],[22100,-0.005],[22250,0.0],[22400,0.0],[22500,-0.005],[22590,-0.005],[22700,0.0],[22830,0.0],[22930,0.0],[22960,-0.01],[22990,-0.02]]
const n2903Mask = [
  [[9000,-0.09],[9030,-0.07],[9060,-0.04],[9090,-0.03]],
  [[9500,-0.14],[9520,-0.06],[9540,0.01],[9560,-0.02]],
  [[10820,0.0],[10850,0.035],[10880,-0.01],[10910,-0.05]],
  [[12480,0.06],[12520,0.03],[12560,0.07]],
  [[12760,0.06],[12800,0.10],[12840,0.06]],
  [[13150,0.04],[13190,0.055],[13230,0.04]],
  [[13430,-0.01],[13450,-0.015]],
  [[19420,0.0],[19450,-0.005]]
]
const n2903Ign = [
  [[10970,-0.12],[10980,-0.13],[10990,-0.125]],
  [[14960,0.03],[14980,0.03],[15000,0.025]],
  [[19120,0.04],[19160,0.05],[19200,0.04]],
  [[19720,-0.01],[19800,-0.015],[19900,-0.015]],
  [[22960,-0.01],[22990,-0.02]]
]
const n2903Gap = [
  [[13560,-0.04],[13650,-0.035],[13750,-0.035],[13850,-0.03],[13950,-0.01],[14050,0.0],[14100,0.01],[14150,0.01]],
  [[18200,-0.025],[18300,-0.015],[18400,-0.01],[18500,0.0],[18600,0.005],[18700,0.015],[18800,0.02]]
]

// ---------- NGC1222 ----------
const n1222Obs = [[8330,1.42],[8350,1.38],[8375,1.39],[8400,1.43],[8430,1.42],[8460,1.37],[8490,1.35],[8520,1.38],[8565,1.31],[8590,1.35],[8620,1.39],[8650,1.43],[8675,1.455],[8710,1.42],[8750,1.41],[8780,1.45],[8810,1.49],[8840,1.45],[8865,1.44],[8900,1.42],[8940,1.40],[8980,1.43],[9015,1.43],[9040,1.42],[9055,1.70],[9060,2.16],[9070,2.16],[9085,1.65],[9100,1.45],[9130,1.39],[9160,1.33],[9205,1.26],[9230,1.33],[9260,1.38],[9300,1.42],[9335,1.455],[9370,1.44],[9420,1.40],[9460,1.42],[9485,1.38],[9500,1.60],[9510,2.70],[9540,2.70],[9555,2.70],[9575,1.70],[9600,1.40],[9630,1.36],[9655,1.31],[9700,1.30],[9740,1.285],[9790,1.30],[9850,1.29],[9900,1.28],[9955,1.275],[10010,1.29],[10040,1.33],[10060,1.39],[10085,1.30],[10115,1.275],[10170,1.27],[10220,1.26],[10270,1.25],[10330,1.24],[10380,1.22],[10435,1.205],[10490,1.22],[10540,1.21],[10590,1.19],[10650,1.20],[10700,1.21],[10755,1.23],[10790,1.22],[10820,1.30],[10835,2.13],[10850,2.13],[10870,1.53],[10900,1.40],[10935,1.38],[10960,1.20],[10990,1.10],[11000,1.08],[11040,1.12],[11075,1.20],[11110,1.26],[11150,1.32],[11190,1.29],[11235,1.26],[11280,1.20],[11320,1.17],[11360,1.19],[11400,1.205],[11440,1.16],[11470,1.115],[11530,1.08],[11610,1.06],[11690,1.05],[11770,1.05],[11850,1.04],[11930,1.03],[12010,1.02],[12090,1.01],[12170,1.00],[12250,0.99],[12330,0.985],[12410,0.98],[12490,0.975],[12540,0.99],[12570,1.06],[12600,0.98],[12645,0.94],[12690,0.96],[12730,0.97],[12790,0.96],[12805,1.30],[12815,1.44],[12830,1.44],[12845,1.10],[12860,0.955],[12945,0.955],[13000,0.96],[13050,0.95],[13120,0.97],[13170,0.99],[13210,1.03],[13260,0.99],[13320,0.95],[13400,0.945],[13480,0.94],[13580,0.93],[13690,0.92],[13800,0.915],[13910,0.91],[14000,0.905],[14120,0.895],[14180,0.90],[14225,0.90],[14280,0.92],[14330,0.94],[14390,0.90],[14440,0.86],[14520,0.85],[14600,0.83],[14680,0.81],[14760,0.795],[14840,0.79],[14920,0.785],[14980,0.75],[15080,0.73],[15160,0.74],[15240,0.75],[15320,0.74],[15400,0.74],[15500,0.74],[15615,0.72],[15700,0.72],[15775,0.705],[15850,0.71],[15935,0.715],[16020,0.70],[16100,0.72],[16180,0.71],[16260,0.695],[16350,0.705],[16420,0.70],[16450,0.76],[16480,0.72],[16520,0.705],[16600,0.70],[16680,0.69],[16760,0.70],[16840,0.695],[16920,0.68],[17000,0.67],[17080,0.66],[17165,0.635],[17215,0.615],[17300,0.64],[17380,0.65],[17460,0.63],[17540,0.64],[17620,0.63],[17700,0.64],[17760,0.63],[17805,0.625],[17880,0.62],[17965,0.615],[18100,0.61],[18285,0.60],[18450,0.595],[18605,0.59],[18720,0.58],[18820,0.57],[18980,0.565],[19140,0.555],[19250,0.55],[19350,0.545],[19420,0.545],[19455,0.555],[19480,0.52],[19510,0.48],[19590,0.46],[19670,0.445],[19750,0.43],[19835,0.42],[19950,0.42],[20100,0.41],[20260,0.405],[20420,0.40],[20520,0.405],[20560,0.43],[20580,0.44],[20610,0.42],[20630,0.395],[20800,0.385],[20955,0.375],[21120,0.37],[21275,0.365],[21440,0.355],[21595,0.35],[21620,0.40],[21650,0.42],[21680,0.38],[21700,0.34],[21860,0.33],[22025,0.32],[22200,0.315],[22345,0.31],[22400,0.295],[22450,0.285],[22500,0.29],[22555,0.305],[22700,0.30],[22875,0.295],[22950,0.28],[23000,0.25]]
const n1222Syn = [[8330,1.36],[8370,1.37],[8400,1.35],[8440,1.33],[8470,1.31],[8500,1.28],[8520,1.26],[8545,1.33],[8570,1.36],[8600,1.33],[8620,1.30],[8650,1.36],[8680,1.40],[8730,1.41],[8780,1.42],[8840,1.42],[8900,1.43],[8940,1.44],[8980,1.45],[9040,1.45],[9100,1.43],[9150,1.39],[9200,1.35],[9260,1.34],[9330,1.35],[9400,1.36],[9470,1.355],[9540,1.35],[9620,1.34],[9700,1.335],[9800,1.33],[9900,1.325],[10000,1.32],[10100,1.30],[10200,1.29],[10300,1.27],[10400,1.26],[10500,1.245],[10600,1.24],[10700,1.225],[10800,1.21],[10840,1.19],[10870,1.13],[10920,1.125],[11000,1.12],[11080,1.115],[11150,1.10],[11230,1.09],[11300,1.09],[11400,1.085],[11500,1.07],[11600,1.06],[11700,1.05],[11800,1.04],[11900,1.03],[12000,1.02],[12100,1.01],[12200,1.00],[12300,0.995],[12400,0.985],[12500,0.975],[12600,0.97],[12700,0.965],[12800,0.955],[12900,0.95],[13000,0.945],[13100,0.94],[13200,0.935],[13300,0.935],[13400,0.93],[13500,0.925],[13600,0.92],[13700,0.915],[13800,0.91],[13900,0.905],[14000,0.90],[14060,0.88],[14120,0.85],[14180,0.81],[14250,0.80],[14330,0.795],[14400,0.80],[14480,0.79],[14560,0.775],[14640,0.77],[14720,0.765],[14800,0.76],[14900,0.765],[15000,0.77],[15100,0.77],[15200,0.775],[15300,0.77],[15400,0.75],[15500,0.74],[15600,0.735],[15700,0.73],[15800,0.725],[15900,0.73],[16000,0.72],[16100,0.725],[16200,0.72],[16300,0.72],[16400,0.715],[16500,0.71],[16600,0.71],[16700,0.70],[16800,0.695],[16900,0.69],[17000,0.68],[17100,0.67],[17200,0.665],[17300,0.655],[17400,0.64],[17500,0.60],[17560,0.575],[17650,0.57],[17750,0.57],[17850,0.565],[17950,0.55],[18100,0.54],[18250,0.535],[18400,0.53],[18550,0.53],[18700,0.525],[18850,0.515],[19000,0.505],[19150,0.50],[19300,0.49],[19450,0.475],[19600,0.46],[19750,0.445],[19900,0.43],[20050,0.42],[20200,0.41],[20400,0.40],[20600,0.39],[20800,0.38],[21000,0.37],[21200,0.365],[21400,0.355],[21600,0.345],[21800,0.335],[22000,0.325],[22200,0.32],[22400,0.31],[22600,0.305],[22800,0.30],[22900,0.29],[22960,0.27],[23000,0.245]]
const n1222Res = [[8330,0.076],[8350,0.05],[8375,0.03],[8400,0.07],[8440,0.088],[8470,0.04],[8510,0.03],[8540,0.08],[8565,0.105],[8600,0.02],[8640,-0.018],[8680,0.05],[8725,0.076],[8760,0.03],[8800,0.006],[8840,-0.02],[8885,-0.064],[8930,-0.02],[8970,-0.006],[9010,-0.03],[9050,0.0],[9058,0.2],[9062,0.45],[9065,0.62],[9070,0.45],[9075,0.2],[9080,0.02],[9100,0.0],[9130,-0.05],[9155,-0.018],[9180,-0.08],[9205,-0.123],[9230,0.0],[9260,0.064],[9300,0.08],[9335,0.088],[9370,0.07],[9420,0.10],[9460,0.09],[9500,0.12],[9515,0.1],[9522,0.3],[9530,0.5],[9540,0.62],[9555,0.5],[9565,0.3],[9575,0.1],[9600,-0.03],[9640,-0.02],[9690,-0.04],[9740,-0.03],[9795,0.0],[9850,-0.02],[9900,-0.04],[9960,-0.01],[10010,0.0],[10040,0.02],[10060,0.09],[10080,0.02],[10115,-0.04],[10160,-0.02],[10220,-0.02],[10270,-0.03],[10330,-0.03],[10380,-0.04],[10435,-0.05],[10480,-0.06],[10510,-0.08],[10550,-0.04],[10595,-0.03],[10650,-0.04],[10700,-0.047],[10750,-0.03],[10790,0.0],[10810,0.0],[10820,0.2],[10830,0.45],[10838,0.62],[10850,0.4],[10860,0.27],[10890,0.25],[10910,0.22],[10940,0.27],[10960,0.20],[10975,0.12],[11000,0.0],[11020,0.02],[11060,0.06],[11110,0.10],[11150,0.16],[11180,0.19],[11220,0.15],[11255,0.135],[11300,0.12],[11345,0.10],[11390,0.12],[11430,0.11],[11470,0.06],[11500,0.03],[11560,0.0],[11610,-0.01],[11660,0.0],[11715,0.0],[11770,0.015],[11825,0.01],[11880,0.02],[11930,0.018],[12000,0.01],[12090,0.0],[12170,-0.01],[12250,-0.005],[12330,0.0],[12410,0.006],[12480,0.0],[12520,0.02],[12530,0.08],[12545,0.07],[12560,0.0],[12600,-0.02],[12640,-0.03],[12680,-0.047],[12720,-0.01],[12780,0.0],[12795,0.2],[12810,0.45],[12820,0.49],[12835,0.45],[12850,0.25],[12865,0.0],[12900,0.0],[12945,-0.012],[13000,0.0],[13050,-0.006],[13100,0.0],[13140,0.02],[13170,0.04],[13200,0.09],[13230,0.06],[13320,0.03],[13380,0.01],[13420,0.0],[13440,-0.005],[13480,0.005],[13550,0.0],[13600,0.0],[13680,-0.005],[13760,0.0],[13840,0.01],[13920,0.04],[14000,0.07],[14080,0.09],[14150,0.10],[14220,0.11],[14290,0.12],[14320,0.135],[14360,0.10],[14400,0.09],[14440,0.076],[14500,0.06],[14560,0.07],[14600,0.076],[14650,0.06],[14700,0.05],[14760,0.035],[14820,0.02],[14880,0.02],[14920,0.0],[15000,-0.01],[15080,-0.018],[15160,-0.02],[15240,-0.03],[15320,-0.02],[15400,-0.024],[15480,-0.03],[15560,-0.035],[15640,-0.02],[15720,-0.018],[15800,-0.01],[15880,-0.03],[15960,-0.02],[16040,-0.012],[16120,-0.02],[16200,-0.01],[16260,-0.012],[16330,0.0],[16400,0.0],[16440,0.045],[16460,0.053],[16490,-0.01],[16520,-0.02],[16600,0.0],[16680,-0.006],[16760,-0.01],[16840,0.0],[16920,0.01],[17000,0.012],[17060,0.0],[17120,-0.02],[17165,-0.053],[17220,-0.03],[17280,0.0],[17325,0.0],[17400,0.01],[17485,0.018],[17560,0.012],[17645,0.012],[17720,0.03],[17805,0.064],[17880,0.06],[17965,0.047],[18050,0.04],[18125,0.035],[18180,0.045],[18200,0.05],[18300,0.06],[18400,0.065],[18500,0.07],[18600,0.065],[18700,0.06],[18800,0.055],[18900,0.045],[18925,0.047],[19050,0.047],[19200,0.047],[19350,0.047],[19380,0.06],[19400,0.08],[19440,0.065],[19460,0.06],[19480,0.01],[19510,0.012],[19580,0.005],[19670,0.006],[19750,-0.01],[19850,-0.018],[19935,-0.018],[20050,-0.01],[20200,0.0],[20350,0.0],[20520,0.0],[20560,0.03],[20580,0.04],[20610,0.01],[20650,0.0],[20850,0.0],[21060,0.0],[21250,0.003],[21490,0.0],[21620,0.0],[21635,0.06],[21660,0.07],[21680,0.0],[21800,0.0],[21950,0.0],[22130,0.0],[22300,0.0],[22400,-0.018],[22450,-0.018],[22500,0.0],[22665,0.0],[22800,0.006],[22900,0.0],[23000,0.0]]
const n1222Mask = [
  [[9050,0.0],[9058,0.2],[9062,0.45],[9065,0.62],[9070,0.45],[9075,0.2],[9080,0.02]],
  [[9515,0.1],[9522,0.3],[9530,0.5],[9540,0.62],[9555,0.5],[9565,0.3],[9575,0.1]],
  [[10810,0.0],[10820,0.2],[10830,0.45],[10838,0.62],[10850,0.4],[10860,0.27],[10890,0.25],[10910,0.22],[10940,0.27],[10960,0.20],[10975,0.12]],
  [[12520,0.02],[12530,0.08],[12545,0.07],[12560,0.0]],
  [[12780,0.0],[12795,0.2],[12810,0.45],[12820,0.49],[12835,0.45],[12850,0.25],[12865,0.0]],
  [[13170,0.04],[13200,0.09],[13230,0.06]],
  [[13420,0.0],[13440,-0.005]],
  [[19440,0.065],[19460,0.06]]
]
const n1222Ign = [
  [[14290,0.12],[14305,0.13],[14320,0.135]],
  [[19390,0.07],[19400,0.08],[19410,0.075]],
  [[21630,0.05],[21650,0.07],[21670,0.06]]
]
const n1222Gap = [
  [[13600,0.0],[13680,-0.005],[13760,0.0],[13840,0.01],[13920,0.04],[14000,0.07],[14080,0.09],[14150,0.10]],
  [[18200,0.05],[18300,0.06],[18400,0.065],[18500,0.07],[18600,0.065],[18700,0.06],[18800,0.055],[18900,0.045]]
]

// panel placement inside the white page (px)
const panels = [
  { name: 'NGC0278', left: 122, top: 67, width: 936, resH: 285, obs: n0278Obs, syn: n0278Syn, res: n0278Res, mask: n0278Mask, ign: n0278Ign, gap: n0278Gap },
  { name: 'NGC1174', left: 1157, top: 69, width: 936, resH: 285, obs: n1174Obs, syn: n1174Syn, res: n1174Res, mask: n1174Mask, ign: n1174Ign, gap: n1174Gap },
  { name: 'NGC2903', left: 119, top: 1048, width: 935, resH: 285, obs: n2903Obs, syn: n2903Syn, res: n2903Res, mask: n2903Mask, ign: n2903Ign, gap: n2903Gap },
  { name: 'NGC1222', left: 1161, top: 1044, width: 934, resH: 286, obs: n1222Obs, syn: n1222Syn, res: n1222Res, mask: n1222Mask, ign: n1222Ign, gap: n1222Gap }
]
const MAIN_H = 571
const X_MIN = 8000, X_MAX = 23000
const FONT = 'Roboto, "DejaVu Sans", sans-serif'
const INK = '#1a1a1a'

// legend icons: an invisible moveTo fixes the box so the mark sits low, like the IDL legend
const iconLineMain = 'path://M0,0M0,16L33,16L33,18L0,18ZM38,24'
const iconLineRes = 'path://M0,0M0,12.5L26,12.5L26,14.5L0,14.5ZM33,19'
const iconDot = 'path://M0,0M1,13.5L4.5,13.5L4.5,17L1,17ZM33,19'
const iconDotBig = 'path://M0,0M0.5,13L5,13L5,17.5L0.5,17.5ZM33,19'

function segments(list) {
    const out = []
    list.forEach((seg, i) => {
        if (i) out.push(['-', '-'])
        seg.forEach(p => out.push(p))
    })
    return out
}

const grids = [], xAxes = [], yAxes = [], series = [], legends = [], titles = []

const tick = (len) => ({ show: true, inside: true, length: len, lineStyle: { color: '#000', width: 1.5 } })
const frameLine = { show: true, onZero: false, lineStyle: { color: '#000', width: 2 } }
const noLine = { show: false, onZero: false }

function frameX(gridIndex, res) {
    const base = { gridIndex, type: 'value', min: X_MIN, max: X_MAX, splitLine: { show: false } }
    const idx = xAxes.length
    xAxes.push(Object.assign({}, base, {
        position: 'bottom', interval: 2000, axisLine: frameLine, axisTick: tick(res ? 7 : 12),
        axisLabel: res ? {
            show: true, margin: 8, fontSize: 14, color: INK, fontFamily: FONT, showMinLabel: true, showMaxLabel: true,
            formatter: v => { const k = xTicks.indexOf(Math.round(v)); return k < 0 ? '' : xTickLabels[k] }
        } : { show: false },
        name: res ? 'λ(Å)' : '', nameLocation: 'middle', nameGap: 27,
        nameTextStyle: { fontSize: 14, color: INK, fontFamily: FONT }
    }))
    xAxes.push(Object.assign({}, base, { position: 'bottom', interval: 500, axisLine: noLine, axisTick: tick(res ? 4 : 6), axisLabel: { show: false } }))
    xAxes.push(Object.assign({}, base, { position: 'top', interval: 2000, axisLine: frameLine, axisTick: tick(res ? 8 : 12), axisLabel: { show: false } }))
    xAxes.push(Object.assign({}, base, { position: 'top', interval: 500, axisLine: noLine, axisTick: tick(res ? 5 : 6), axisLabel: { show: false } }))
    return idx
}

function frameY(gridIndex, res) {
    const lo = res ? -0.4 : 0, hi = res ? 0.6 : 2.5
    const base = { gridIndex, type: 'value', min: lo, max: hi, splitLine: { show: false } }
    const major = res ? 0.2 : 0.5, minor = res ? 0.05 : 0.1
    const size = res ? 13 : 25
    // end labels are pushed inside the frame, as IDL does
    const shiftLo = res ? 8 : 28, shiftHi = res ? 18 : 18
    const idx = yAxes.length
    yAxes.push(Object.assign({}, base, {
        position: 'left', interval: major, axisLine: frameLine, axisTick: tick(20),
        axisLabel: {
            show: true, margin: res ? 4 : 8, fontSize: size, color: INK, fontFamily: FONT,
            showMinLabel: true, showMaxLabel: true,
            formatter: v => {
                const s = v.toFixed(1).replace('-', '−')
                if (Math.abs(v - lo) < 1e-6) return '{lo|' + s + '}'
                if (Math.abs(v - hi) < 1e-6) return '{hi|' + s + '}'
                return s
            },
            rich: {
                lo: { fontSize: size, color: INK, fontFamily: FONT, padding: [0, 0, shiftLo, 0] },
                hi: { fontSize: size, color: INK, fontFamily: FONT, padding: [shiftHi, 0, 0, 0] }
            }
        },
        // subscripts dropped through top padding on their tokens
        name: res ? '' : '{f|F}{s|λ}{f|/F}{s|1.2330μm}',
        nameLocation: 'middle', nameRotate: 90, nameGap: 72,
        nameTextStyle: {
            color: INK, fontFamily: FONT,
            rich: {
                f: { fontSize: 22, lineHeight: 22, color: INK, fontFamily: FONT },
                s: { fontSize: 18, lineHeight: 18, padding: [28, 0, 0, 0], color: INK, fontFamily: FONT }
            }
        }
    }))
    yAxes.push(Object.assign({}, base, { position: 'left', interval: minor, axisLine: noLine, axisTick: tick(11), axisLabel: { show: false } }))
    yAxes.push(Object.assign({}, base, { position: 'right', interval: major, axisLine: frameLine, axisTick: tick(20), axisLabel: { show: false } }))
    yAxes.push(Object.assign({}, base, { position: 'right', interval: minor, axisLine: noLine, axisTick: tick(11), axisLabel: { show: false } }))
    return idx
}

function lineSeries(name, xi, yi, data, color, width, extra) {
    return Object.assign({
        name, type: 'line', xAxisIndex: xi, yAxisIndex: yi, data,
        symbol: 'none', showSymbol: false, silent: true, animation: false,
        lineStyle: { color, width }, itemStyle: { color }
    }, extra || {})
}

function marks(name, xi, yi, segs, color, width, size) {
    return lineSeries(name, xi, yi, segments(segs), color, width, {
        symbol: 'circle', showSymbol: true, symbolSize: size, connectNulls: false, z: 5
    })
}

panels.forEach((p, i) => {
    const resTop = p.top + MAIN_H
    grids.push({ left: p.left, top: p.top, width: p.width, height: MAIN_H, outerBoundsMode: 'none' })
    grids.push({ left: p.left, top: resTop, width: p.width, height: p.resH, outerBoundsMode: 'none' })

    const xm = frameX(2 * i, false), ym = frameY(2 * i, false)
    const xr = frameX(2 * i + 1, true), yr = frameY(2 * i + 1, true)

    series.push(lineSeries('Observed spectra', xm, ym, p.obs, '#000', 1.6))
    series.push(lineSeries('Synthetic spectra', xm, ym, p.syn, '#ff0000', 1.8, { z: 3 }))

    series.push(lineSeries('zero', xr, yr, [[p.res[0][0], 0], [X_MAX, 0]], '#000', 2, { lineStyle: { color: '#000', width: 2, type: [2, 5] } }))
    series.push(lineSeries('Residual spectra', xr, yr, p.res, '#000', 1.6, { z: 3 }))
    series.push(marks('Gap between orders', xr, yr, p.gap, '#0000ff', 5, 5))
    series.push(marks('Ignored', xr, yr, p.ign, '#00ee00', 4, 5))
    series.push(marks('Mask', xr, yr, p.mask, '#ff0000', 4, 5))

    titles.push({
        text: p.name, left: p.left + p.width / 2, top: p.top - 46, textAlign: 'center', padding: 0,
        textStyle: { fontSize: 33, fontWeight: 300, color: INK, fontFamily: FONT }
    })

    legends.push({
        left: p.left + 685, top: p.top + 27, orient: 'vertical', padding: 0, itemGap: 22,
        itemWidth: 38, itemHeight: 24, selectedMode: false, itemStyle: { borderWidth: 0 },
        textStyle: { fontSize: 22, lineHeight: 24, color: INK, fontFamily: FONT },
        data: [{ name: 'Observed spectra', icon: iconLineMain }, { name: 'Synthetic spectra', icon: iconLineMain }]
    })
    legends.push({
        left: p.left + 685, top: resTop + 14, orient: 'vertical', padding: 0, itemGap: 0,
        itemWidth: 33, itemHeight: 19, selectedMode: false, itemStyle: { borderWidth: 0 },
        textStyle: { fontSize: 20, lineHeight: 19, color: INK, fontFamily: FONT },
        data: [
            { name: 'Residual spectra', icon: iconLineRes, textStyle: { fontSize: 22, lineHeight: 19 } },
            { name: 'Mask', icon: iconDot, textStyle: { fontSize: 20, lineHeight: 19 } },
            { name: 'Ignored', icon: iconDot, textStyle: { fontSize: 20, lineHeight: 23 } },
            { name: 'Gap between orders', icon: iconDotBig, textStyle: { fontSize: 16, fontWeight: 'bold', lineHeight: 19 } }
        ]
    })
})

const chart = echarts.init(document.getElementById('chart'), null, { renderer: 'svg' })
chart.setOption({
    animation: false,
    textStyle: { fontFamily: FONT },
    title: titles,
    legend: legends,
    grid: grids,
    xAxis: xAxes,
    yAxis: yAxes,
    series
})
</script>
</body>
</html>
